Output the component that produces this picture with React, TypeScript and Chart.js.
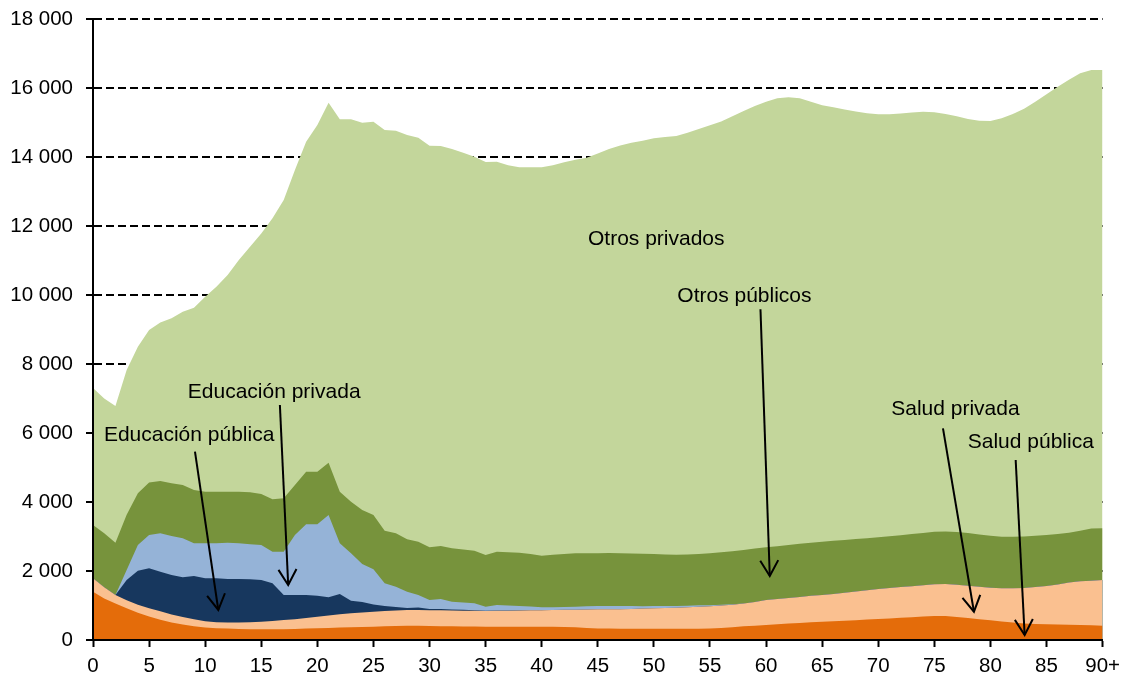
import React, { useEffect, useRef } from 'react';
import { Chart, registerables } from 'chart.js';

Chart.register(...registerables);

// Age categories 0..89 and "90+"
const ages: string[] = Array.from({ length: 91 }, (_, i) => (i === 90 ? '90+' : String(i)));

const yTicks = [0, 2000, 4000, 6000, 8000, 10000, 12000, 14000, 16000, 18000];

// Series values (per age), stacked bottom to top
const saludPublica = [
  1400, 1200, 1060, 920, 790, 680, 590, 510, 450, 400,
  360, 340, 330, 320, 310, 310, 310, 315, 320, 330,
  340, 350, 360, 370, 380, 386, 395, 405, 415, 410,
  405, 400, 395, 390, 388, 386, 386, 386, 386, 386,
  386, 386, 380, 370, 350, 335, 330, 328, 328, 328,
  328, 328, 328, 328, 328, 330, 345, 370, 395, 415,
  435, 455, 475, 495, 515, 531, 545, 560, 575, 592,
  609, 625, 642, 660, 680, 696, 695, 670, 640, 605,
  570, 535, 505, 480, 462, 454, 447, 440, 432, 424,
  415,
];

const saludPrivada = [
  390, 330, 245, 230, 230, 240, 240, 230, 220, 200,
  180, 175, 175, 185, 205, 220, 240, 265, 285, 310,
  335, 360, 385, 405, 420, 435, 445, 450, 455, 460,
  460, 460, 460, 460, 457, 454, 459, 464, 469, 474,
  479, 484, 495, 510, 535, 554, 559, 564, 572, 582,
  592, 602, 609, 622, 637, 650, 655, 655, 660, 685,
  724, 735, 745, 755, 765, 773, 790, 810, 830, 848,
  869, 880, 893, 900, 910, 918, 925, 930, 930, 935,
  945, 965, 995, 1030, 1073, 1111, 1163, 1230, 1268, 1296,
  1324,
];

const educacionPublica = [
  0, 0, 0, 589, 989, 1159, 1150, 1144, 1147, 1255,
  1247, 1272, 1263, 1263, 1243, 1208, 1092, 724, 699, 664,
  609, 526, 588, 365, 300, 209, 145, 105, 60, 75,
  35, 35, 30, 25, 15, 10, 10, 8, 7, 6,
  3, 0, 0, 0, 0, 0, 0, 0, 0, 0,
  0, 0, 0, 0, 0, 0, 0, 0, 0, 0,
  0, 0, 0, 0, 0, 0, 0, 0, 0, 0,
  0, 0, 0, 0, 0, 0, 0, 0, 0, 0,
  0, 0, 0, 0, 0, 0, 0, 0, 0, 0,
  0,
];

const educacionPrivada = [
  0, 0, 0, 290, 745, 966, 1112, 1130, 1130, 947,
  1015, 1015, 1053, 1034, 1015, 1015, 918, 1256, 1739, 2049,
  2068, 2387, 1469, 1372, 1100, 1018, 657, 586, 471, 359,
  259, 293, 226, 210, 203, 116, 159, 142, 123, 104,
  79, 80, 85, 86, 90, 96, 96, 93, 85, 70,
  65, 55, 50, 45, 40, 30, 20, 10, 0, 0,
  0, 0, 0, 0, 0, 0, 0, 0, 0, 0,
  0, 0, 0, 0, 0, 0, 0, 0, 0, 0,
  0, 0, 0, 0, 0, 0, 0, 0, 0, 0,
  0,
];

const otrosPublicos = [
  1546, 1562, 1517, 1600, 1497, 1517, 1516, 1526, 1546, 1546,
  1498, 1498, 1479, 1498, 1507, 1478, 1517, 1546, 1450, 1526,
  1526, 1517, 1498, 1498, 1568, 1575, 1527, 1546, 1517, 1546,
  1527, 1537, 1546, 1535, 1526, 1498, 1546, 1545, 1546, 1520,
  1497, 1520, 1530, 1546, 1540, 1530, 1535, 1530, 1520, 1518,
  1508, 1495, 1483, 1485, 1490, 1502, 1520, 1535, 1555, 1550,
  1527, 1530, 1535, 1540, 1540, 1546, 1540, 1530, 1520, 1510,
  1498, 1500, 1500, 1510, 1515, 1526, 1525, 1530, 1530, 1520,
  1505, 1495, 1490, 1490, 1485, 1478, 1460, 1440, 1470, 1510,
  1498,
];

const otrosPrivados = [
  3967, 3908, 3959, 4197, 4249, 4426, 4592, 4783, 5023, 5284,
  5652, 5942, 6280, 6714, 7120, 7555, 8145, 8647, 9130, 9565,
  10048, 10434, 10793, 11083, 11227, 11400, 11614, 11671, 11720, 11710,
  11642, 11594, 11575, 11505, 11421, 11391, 11304, 11215, 11169, 11210,
  11256, 11290, 11360, 11408, 11465, 11585, 11710, 11815, 11905, 11972,
  12047, 12100, 12140, 12220, 12315, 12408, 12490, 12610, 12720, 12830,
  12914, 12980, 12975, 12910, 12780, 12650, 12565, 12480, 12395, 12320,
  12261, 12232, 12225, 12220, 12208, 12160, 12105, 12050, 12000, 11992,
  12023, 12125, 12260, 12400, 12583, 12777, 12968, 13130, 13255, 13292,
  13285,
];

const seriesNames = [
  'Salud pública',
  'Salud privada',
  'Educación pública',
  'Educación privada',
  'Otros públicos',
  'Otros privados',
];
const seriesColors = ['#E46C0A', '#FAC090', '#17375E', '#95B3D7', '#77933C', '#C3D69B'];
const seriesData = [saludPublica, saludPrivada, educacionPublica, educacionPrivada, otrosPublicos, otrosPrivados];

// Annotation labels in data coordinates (age index, value), text baseline
const labelTexts = ['Otros privados', 'Otros públicos', 'Educación privada', 'Educación pública', 'Salud privada', 'Salud pública'];
const labelAges = [50.21, 58.07, 16.15, 8.57, 76.88, 83.6];
const labelValues = [11450, 9806, 7006, 5777, 6522, 5557];

// Arrows in data coordinates
const arrowFromAges = [9.09, 16.66, 59.5, 75.77, 82.25];
const arrowFromValues = [5460, 6812, 9585, 6136, 5217];
const arrowToAges = [11.17, 17.4, 60.33, 78.53, 83.05];
const arrowToValues = [870, 1594, 1855, 820, 145];

const FONT = '"Liberation Sans", Arial, Helvetica, sans-serif';

const fmt = (v: number) => String(v).replace(/\B(?=(\d{3})+(?!\d))/g, ' ');

const annotationPlugin = {
  id: 'annotationsCustom',
  afterDatasetsDraw(chart: any) {
    const ctx = chart.ctx as CanvasRenderingContext2D;
    const xs = chart.scales.x;
    const ys = chart.scales.y;
    ctx.save();
    ctx.fillStyle = '#000';
    ctx.font = `21px ${FONT}`;
    ctx.textAlign = 'center';
    ctx.textBaseline = 'alphabetic';
    labelTexts.forEach((t, i) => {
      ctx.fillText(t, xs.getPixelForValue(labelAges[i]), ys.getPixelForValue(labelValues[i]));
    });
    ctx.strokeStyle = '#000';
    ctx.lineWidth = 2;
    ctx.lineJoin = 'miter';
    ctx.lineCap = 'butt';
    arrowFromAges.forEach((_, i) => {
      const x1 = xs.getPixelForValue(arrowFromAges[i]);
      const y1 = ys.getPixelForValue(arrowFromValues[i]);
      const x2 = xs.getPixelForValue(arrowToAges[i]);
      const y2 = ys.getPixelForValue(arrowToValues[i]);
      ctx.beginPath();
      ctx.moveTo(x1, y1);
      ctx.lineTo(x2, y2);
      ctx.stroke();
      const ang = Math.atan2(y2 - y1, x2 - x1);
      const L = 18;
      const h = Math.PI / 6;
      ctx.beginPath();
      ctx.moveTo(x2 - L * Math.cos(ang - h), y2 - L * Math.sin(ang - h));
      ctx.lineTo(x2, y2);
      ctx.lineTo(x2 - L * Math.cos(ang + h), y2 - L * Math.sin(ang + h));
      ctx.stroke();
    });
    ctx.restore();
  },
};

export default function App() {
  const canvasRef = useRef<HTMLCanvasElement | null>(null);

  useEffect(() => {
    if (!canvasRef.current) return;
    const chart = new Chart(canvasRef.current, {
      type: 'line',
      data: {
        labels: ages,
        datasets: seriesData.map((d, i) => ({
          label: seriesNames[i],
          data: d,
          backgroundColor: seriesColors[i],
          borderColor: seriesColors[i],
          borderWidth: 0,
          pointRadius: 0,
          fill: 'origin',
          tension: 0,
        })),
      },
      options: {
        responsive: false,
        animation: false,
        devicePixelRatio: 1,
        layout: { padding: { left: 0, right: 24, top: 19, bottom: 0 } },
        plugins: {
          legend: { display: false },
          tooltip: { enabled: false },
        },
        scales: {
          x: {
            type: 'category',
            offset: false,
            grid: {
              display: true,
              drawOnChartArea: false,
              drawTicks: true,
              tickLength: 7,
              tickWidth: 2,
              color: '#000',
              tickColor: (c: any) => (c.index % 5 === 0 ? '#000' : 'rgba(0,0,0,0)'),
            },
            border: { display: true, color: '#000', width: 2, z: 1 },
            ticks: {
              autoSkip: false,
              maxRotation: 0,
              minRotation: 0,
              padding: 7,
              color: '#000',
              font: { family: FONT, size: 20.5 },
              callback: (_v: any, i: number) => (i % 5 === 0 ? ages[i] : ''),
            },
            afterFit: (s: any) => {
              s.height = 40;
            },
          },
          y: {
            stacked: true,
            min: 0,
            max: 18000,
            afterBuildTicks: (s: any) => {
              s.ticks = yTicks.map((v) => ({ value: v }));
            },
            grid: {
              color: '#000',
              lineWidth: 2,
              drawTicks: true,
              tickLength: 7,
              tickWidth: 2,
              tickColor: '#000',
              tickBorderDash: [],
            },
            border: { display: true, color: '#000', width: 2, dash: [8, 4], z: 1 },
            ticks: {
              padding: 13,
              color: '#000',
              font: { family: FONT, size: 20.5 },
              callback: (v: any) => fmt(Number(v)),
            },
            afterFit: (s: any) => {
              s.width = 93;
              s.paddingTop = 0;
              s.paddingBottom = 0;
            },
          },
        },
      },
      plugins: [annotationPlugin],
    } as any);
    return () => chart.destroy();
  }, []);

  return (
    <div style={{ position: 'absolute', left: 0, top: 0, width: 1127, height: 680, background: '#fff' }}>
      <canvas ref={canvasRef} width={1127} height={680} style={{ display: 'block' }} />
    </div>
  );
}
